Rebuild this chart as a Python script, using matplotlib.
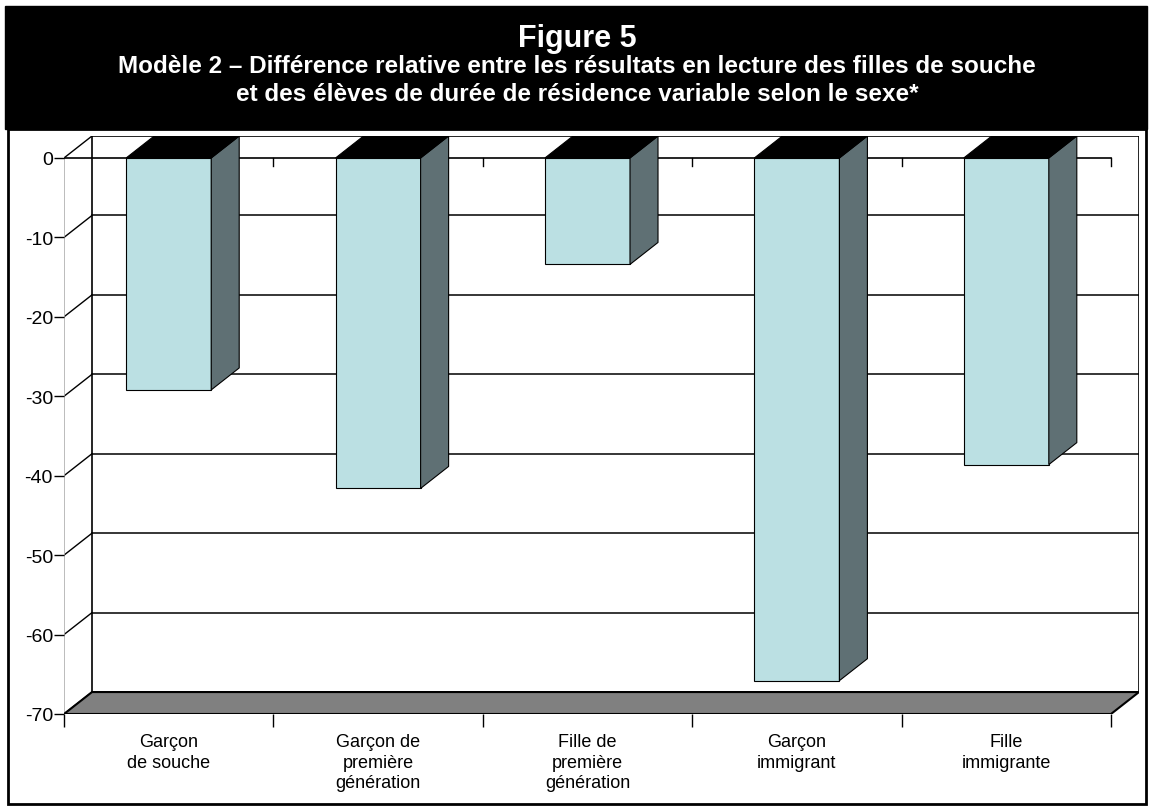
import matplotlib
matplotlib.use("Agg")
import matplotlib.pyplot as plt
from matplotlib.patches import Polygon, Rectangle

plt.rcParams['font.family'] = ['Liberation Sans', 'DejaVu Sans']

categories = ["Garçon\nde souche", "Garçon de\npremière\ngénération", "Fille de\npremière\ngénération",
              "Garçon\nimmigrant", "Fille\nimmigrante"]
values = [-29.2, -41.6, -13.4, -65.8, -38.6]
yticks = [0, -10, -20, -30, -40, -50, -60, -70]

title = "Figure 5"
sub1 = "Modèle 2 – Différence relative entre les résultats en lecture des filles de souche"
sub2 = "et des élèves de durée de résidence variable selon le sexe*"

W, H = 1154, 812
fig = plt.figure(figsize=(W / 100, H / 100), dpi=100)

def fx(px): return px / W
def fy(py): return 1 - py / H

# black title banner + white frame
fig.patches.append(Rectangle((fx(5), fy(130)), fx(1142), 123 / H, transform=fig.transFigure,
                             facecolor="black", edgecolor="black", zorder=-2))
fig.patches.append(Rectangle((fx(8), fy(805)), fx(1138), 675 / H, transform=fig.transFigure,
                             facecolor="white", edgecolor="black", lw=2, zorder=-2))
fig.text(0.5, fy(47), title, color="white", fontsize=22, fontweight="bold", ha="center", va="baseline")
fig.text(0.5, fy(73), sub1, color="white", fontsize=17.5, fontweight="bold", ha="center", va="baseline")
fig.text(0.5, fy(101), sub2, color="white", fontsize=17.5, fontweight="bold", ha="center", va="baseline")

# 3D depth offsets in data units
dx = 28 / 209.4
dy = 22 / 7.96
bw = 0.406
ymin = -70

ax = fig.add_axes([fx(64), fy(715), fx(1139 - 64), (715 - 137) / H])
ax.set_zorder(1)
ax.set_xlim(-0.5, 4.5 + dx)
ax.set_ylim(ymin, dy)
for s in ax.spines.values():
    s.set_visible(False)
ax.patch.set_visible(False)

x0, x1 = -0.5, len(categories) - 0.5

# back wall
ax.plot([x0 + dx, x1 + dx, x1 + dx], [dy, dy, ymin + dy], color="black", lw=1.2, zorder=1)
ax.plot([x0 + dx, x0 + dx], [dy, ymin + dy], color="black", lw=1.2, zorder=1)
for v in yticks[1:-1]:
    ax.plot([x0 + dx, x1 + dx], [v + dy, v + dy], color="black", lw=1.1, zorder=1)
# side wall diagonals
for v in yticks:
    ax.plot([x0, x0 + dx], [v, v + dy], color="black", lw=1, zorder=1)
ax.plot([x0, x0], [ymin, 0], color="#b0b0b0", lw=1.2, zorder=1)

# floor
ax.add_patch(Polygon([(x0, ymin), (x1, ymin), (x1 + dx, ymin + dy), (x0 + dx, ymin + dy)],
                     closed=True, facecolor="#808080", edgecolor="black", lw=1.5, zorder=2))
ax.plot([x0, x1], [ymin, ymin], color="black", lw=1, zorder=3)

# zero category line with ticks
ax.plot([x0, x1], [0, 0], color="black", lw=1.2, zorder=2)
for b in range(1, len(categories) + 1):
    ax.plot([x0 + b, x0 + b], [0, -1.0], color="black", lw=1, zorder=2)

# bars
for i, v in enumerate(values):
    l, r = i - bw / 2, i + bw / 2
    ax.add_patch(Polygon([(l, 0), (r, 0), (r, v), (l, v)], closed=True,
                         facecolor="#bbe0e3", edgecolor="black", lw=0.8, zorder=4))
    ax.add_patch(Polygon([(r, 0), (r, v), (r + dx, v + dy), (r + dx, dy)], closed=True,
                         facecolor="#5f7074", edgecolor="black", lw=0.8, zorder=4))
    ax.add_patch(Polygon([(l, 0), (r, 0), (r + dx, dy), (l + dx, dy)], closed=True,
                         facecolor="black", edgecolor="black", lw=0.8, zorder=4))

ax.set_yticks(yticks)
ax.set_yticklabels([str(v) for v in yticks], fontsize=14)
ax.tick_params(axis="y", length=7, width=1, pad=1, color="black")
ax.set_xticks(range(len(categories)))
ax.set_xticklabels(categories, fontsize=13, linespacing=1.25)
ax.set_xticks([x0 + b for b in range(len(categories) + 1)], minor=True)
ax.tick_params(axis="x", which="major", length=0, pad=14)
ax.tick_params(axis="x", which="minor", length=9, width=1, direction="out")

fig.savefig("out.png", dpi=100)
